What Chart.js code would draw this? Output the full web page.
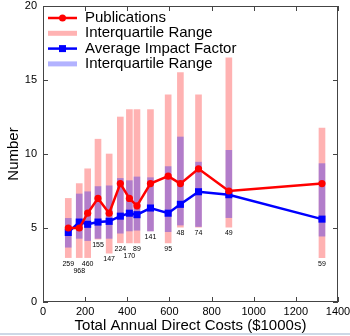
<!DOCTYPE html>
<html>
<head>
<meta charset="utf-8">
<script src="https://cdn.jsdelivr.net/npm/chart.js@4/dist/chart.umd.min.js"></script>
<style>
  html, body { margin: 0; padding: 0; background: #fff; }
  #wrap { width: 350px; height: 336px; position: relative; }
</style>
</head>
<body>
<div id="wrap"><canvas id="chart"></canvas></div>
<script>
// bin centres, total annual direct costs ($1000s)
var costs = [120, 172, 212, 261, 314, 367, 410, 446, 510, 594, 652, 738, 882, 1324];

// publications: median + interquartile range
var publications = [5, 5, 6, 7, 6, 8, 7, 6.5, 8, 8.5, 8, 9, 7.5, 8];
var pubLow  = [3.0, 3.0, 3.0, 4.25, 3.3, 4.0, 4.0, 4.0, 4.8, 4.0, 5.05, 5.05, 5.05, 3.0];
var pubHigh = [7.0, 8.0, 9.0, 11.0, 10.0, 12.5, 13.0, 13.0, 13.0, 14.0, 15.5, 14.0, 16.5, 11.75];

// average impact factor + interquartile range
var impact     = [4.7, 5.4, 5.25, 5.4, 5.45, 5.8, 6.0, 5.9, 6.35, 6.0, 6.6, 7.45, 7.25, 5.6];
var impactLow  = [3.7, 4.3, 4.15, 4.3, 4.3, 4.65, 4.8, 4.85, 4.8, 4.75, 5.2, 5.1, 5.7, 4.45];
var impactHigh = [5.65, 7.3, 7.45, 7.8, 7.85, 8.35, 8.2, 8.45, 8.4, 9.15, 11.15, 9.45, 10.25, 9.35];

// number of grants in each bin
var counts = [259, 968, 460, 155, 147, 224, 170, 89, 141, 95, 48, 74, 49, 59];

var xTicks = [0, 200, 400, 600, 800, 1000, 1200, 1400];
var yTicks = [0, 5, 10, 15, 20];

var legendLabels = ["Publications", "Interquartile Range", "Average Impact Factor", "Interquartile Range"];

var RED = "#ff0000";
var BLUE = "#0000ff";
var PINK = "rgba(255, 0, 0, 0.3)";
var LAVENDER = "rgba(0, 0, 255, 0.3)";
var FONT = "'Liberation Sans', Arial, sans-serif";

function pairs(xs, ys) {
  return xs.map(function (x, i) { return { x: x, y: ys[i] }; });
}
function ranges(xs, lo, hi) {
  return xs.map(function (x, i) { return { x: x, y: [lo[i], hi[i]] }; });
}

// frame, inside ticks, count labels and legend
var extras = {
  id: "extras",
  afterDatasetsDraw: function (chart) {
    var ctx = chart.ctx;
    var a = chart.chartArea;
    var xs = chart.scales.x, ys = chart.scales.y;
    ctx.save();

    // counts under each publication bar, nudged down when they collide
    ctx.font = "7px " + FONT;
    ctx.fillStyle = "#000";
    ctx.textAlign = "center";
    ctx.textBaseline = "middle";
    var placed = [];
    counts.forEach(function (n, i) {
      var txt = String(n);
      var w = ctx.measureText(txt).width;
      var x = xs.getPixelForValue(costs[i]);
      var y = ys.getPixelForValue(pubLow[i]) + 6;
      var hit = true;
      while (hit) {
        hit = placed.some(function (p) {
          return Math.abs(p.x - x) < (p.w + w) / 2 + 0.5 && Math.abs(p.y - y) < 7;
        });
        if (hit) y += 7;
      }
      placed.push({ x: x, y: y, w: w });
      ctx.fillText(txt, x, y);
    });

    // frame
    ctx.strokeStyle = "#444";
    ctx.lineWidth = 1;
    ctx.strokeRect(a.left + 0.5, a.top + 0.5, a.right - a.left - 1, a.bottom - a.top - 1);

    // inside ticks on all four sides
    var tl = 5;
    ctx.beginPath();
    xTicks.forEach(function (v) {
      var px = Math.round(xs.getPixelForValue(v)) + 0.5;
      ctx.moveTo(px, a.bottom); ctx.lineTo(px, a.bottom - tl);
      ctx.moveTo(px, a.top); ctx.lineTo(px, a.top + tl);
    });
    yTicks.forEach(function (v) {
      var py = Math.round(ys.getPixelForValue(v)) + 0.5;
      ctx.moveTo(a.left, py); ctx.lineTo(a.left + tl, py);
      ctx.moveTo(a.right, py); ctx.lineTo(a.right - tl, py);
    });
    ctx.stroke();

    // legend
    var lx0 = a.left + 5, lx1 = a.left + 34, tx = a.left + 42;
    ctx.font = "15px " + FONT;
    ctx.textAlign = "left";
    ctx.textBaseline = "middle";
    legendLabels.forEach(function (lab, i) {
      var y = a.top + 12 + i * 15.3;
      var mid = (lx0 + lx1) / 2;
      if (i === 0 || i === 2) {
        var col = i === 0 ? RED : BLUE;
        ctx.strokeStyle = col;
        ctx.fillStyle = col;
        ctx.lineWidth = 2.5;
        ctx.beginPath();
        ctx.moveTo(lx0, y); ctx.lineTo(lx1, y);
        ctx.stroke();
        if (i === 0) {
          ctx.beginPath();
          ctx.arc(mid, y, 3.5, 0, Math.PI * 2);
          ctx.fill();
        } else {
          ctx.fillRect(mid - 3.5, y - 3.5, 7, 7);
        }
      } else {
        ctx.fillStyle = i === 1 ? PINK : LAVENDER;
        ctx.fillRect(lx0, y - 2.5, lx1 - lx0, 5);
      }
      ctx.fillStyle = "#000";
      ctx.fillText(lab, tx, y);
    });

    // faint picture edge at the bottom
    ctx.fillStyle = "#cdd8e6";
    ctx.fillRect(0, 333, chart.width, 2);
    ctx.restore();
  }
};

var ctx = document.getElementById("chart").getContext("2d");

var myChart = new Chart(ctx, {
  type: "line",
  data: {
    datasets: [
      {
        type: "line",
        label: "Publications",
        data: pairs(costs, publications),
        borderColor: RED,
        backgroundColor: RED,
        borderWidth: 2.5,
        pointStyle: "circle",
        pointRadius: 3.6,
        pointBorderWidth: 0,
        tension: 0,
        order: 1
      },
      {
        type: "line",
        label: "Average Impact Factor",
        data: pairs(costs, impact),
        borderColor: BLUE,
        backgroundColor: BLUE,
        borderWidth: 2.5,
        pointStyle: "rect",
        pointRadius: 5,
        pointBorderWidth: 0,
        tension: 0,
        order: 2
      },
      {
        type: "bar",
        label: "Interquartile Range",
        data: ranges(costs, impactLow, impactHigh),
        backgroundColor: LAVENDER,
        borderWidth: 0,
        barThickness: 6,
        grouped: false,
        order: 3
      },
      {
        type: "bar",
        label: "Interquartile Range",
        data: ranges(costs, pubLow, pubHigh),
        backgroundColor: PINK,
        borderWidth: 0,
        barThickness: 6,
        grouped: false,
        order: 4
      }
    ]
  },
  options: {
    responsive: true,
    maintainAspectRatio: false,
    animation: false,
    layout: { padding: { left: 0, right: 12, top: 6, bottom: 0 } },
    plugins: {
      legend: { display: false },
      tooltip: { enabled: false }
    },
    scales: {
      x: {
        type: "linear",
        min: 0,
        max: 1400,
        offset: false,
        afterBuildTicks: function (s) { s.ticks = xTicks.map(function (v) { return { value: v }; }); },
        afterFit: function (s) {
          s.height = 34;
          s.paddingLeft = 0; s.paddingRight = 0;
        },
        grid: { display: false, drawTicks: false },
        border: { display: false },
        ticks: {
          color: "#000", padding: 3, maxRotation: 0, autoSkip: false,
          font: { family: FONT, size: 11 },
          callback: function (v) { return String(v); }
        },
        title: {
          display: true,
          text: "Total Annual Direct Costs ($1000s)",
          color: "#000",
          font: { family: FONT, size: 15 },
          padding: { top: 0, bottom: 1 }
        }
      },
      y: {
        min: 0,
        max: 20,
        afterBuildTicks: function (s) { s.ticks = yTicks.map(function (v) { return { value: v }; }); },
        afterFit: function (s) {
          s.width = 43;
          s.paddingTop = 0; s.paddingBottom = 0;
        },
        grid: { display: false, drawTicks: false },
        border: { display: false },
        ticks: {
          color: "#000", padding: 6,
          font: { family: FONT, size: 11 },
          callback: function (v) { return String(v); }
        },
        title: {
          display: true,
          text: "Number",
          color: "#000",
          font: { family: FONT, size: 15 },
          padding: { top: 5, bottom: 0 }
        }
      }
    }
  },
  plugins: [extras]
});
</script>
</body>
</html>
